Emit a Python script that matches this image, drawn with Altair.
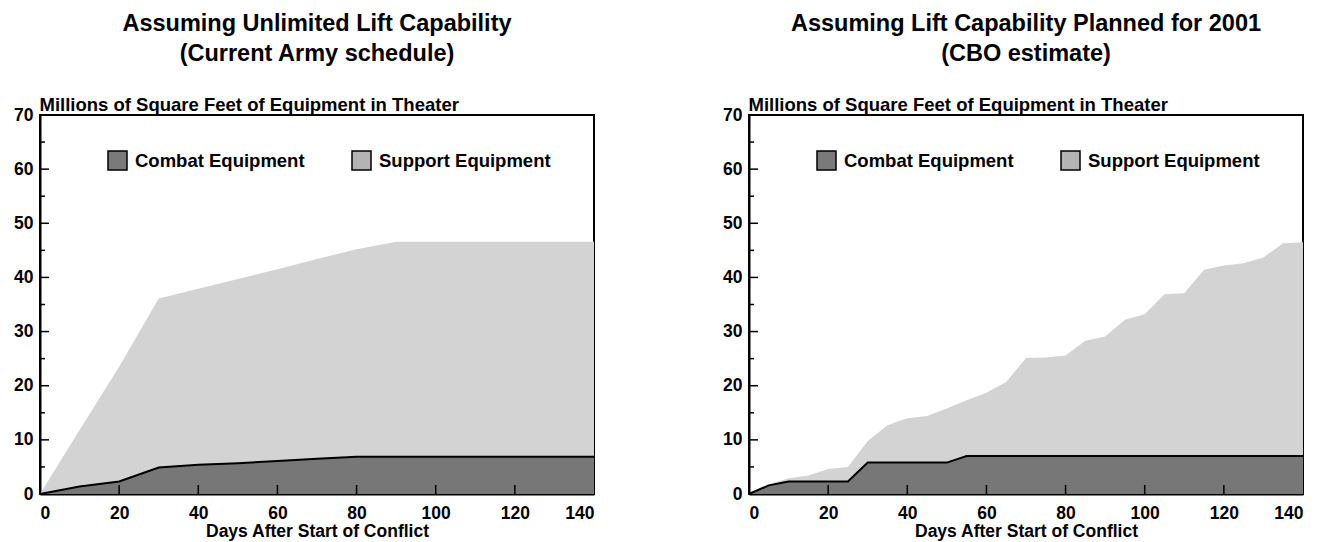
import altair as alt
import pandas as pd

# ---- data ----
days_a = [0, 10, 20, 30, 40, 50, 60, 70, 80, 90, 100, 110, 120, 130, 140]
combat_a = [0, 1.4, 2.3, 4.9, 5.4, 5.7, 6.1, 6.5, 6.9, 6.9, 6.9, 6.9, 6.9, 6.9, 6.9]
total_a = [0, 11.8, 23.5, 36.1, 37.9, 39.7, 41.5, 43.4, 45.2, 46.6, 46.6, 46.6, 46.6, 46.6, 46.6]

days_b = [0, 5, 10, 15, 20, 25, 30, 35, 40, 45, 50, 55, 60, 65, 70, 75, 80, 85, 90,
          95, 100, 105, 110, 115, 120, 125, 130, 135, 140]
combat_b = [0, 1.6, 2.3, 2.3, 2.3, 2.3, 5.8, 5.8, 5.8, 5.8, 5.8, 7.0, 7.0, 7.0, 7.0,
            7.0, 7.0, 7.0, 7.0, 7.0, 7.0, 7.0, 7.0, 7.0, 7.0, 7.0, 7.0, 7.0, 7.0]
total_b = [0, 1.8, 2.9, 3.4, 4.6, 5.0, 9.8, 12.7, 14.0, 14.4, 15.8, 17.3, 18.7, 20.7,
           25.1, 25.2, 25.6, 28.3, 29.1, 32.2, 33.2, 36.9, 37.1, 41.4, 42.2, 42.6,
           43.7, 46.3, 46.5]

title_a = ["Assuming Unlimited Lift Capability", "(Current Army schedule)"]
title_b = ["Assuming Lift Capability Planned for 2001", "(CBO estimate)"]
y_title = "Millions of Square Feet of Equipment in Theater"
x_title = "Days After Start of Conflict"
series = ["Combat Equipment", "Support Equipment"]

x_labels = [0, 20, 40, 60, 80, 100, 120, 140]
y_labels = [0, 10, 20, 30, 40, 50, 60, 70]
y_major = [10, 20, 30, 40, 50, 60]
y_minor = [5, 15, 25, 35, 45, 55, 65]
x_major = [20, 40, 60, 80, 100, 120]

W, H = 554, 379
FONT = "Liberation Sans"
COMBAT_FILL = "#777777"
SUPPORT_FILL = "#d3d3d3"

legend_scale = alt.Scale(domain=series, range=["#7a7a7a", "#b4b4b4"])
xs = alt.Scale(domain=[0, 140], nice=False, zero=False)
ys = alt.Scale(domain=[0, 70], nice=False)

x_axis = alt.Axis(values=x_labels, title=x_title, ticks=False, grid=False,
                  labelPadding=10, titlePadding=1, domainColor="black",
                  domainWidth=2)
y_axis = alt.Axis(values=y_labels, title=y_title, ticks=False, grid=False,
                  labelPadding=7, titleAngle=0, titleAlign="left",
                  titleBaseline="alphabetic", titleX=-1, titleY=-5, minExtent=31,
                  titleFontSize=18.5, domainColor="black", domainWidth=2)

legend = alt.Legend(
    title=None, orient="none", legendX=67, legendY=35, direction="horizontal",
    symbolType="square", symbolSize=361, symbolStrokeColor="black",
    symbolStrokeWidth=1.5, symbolOpacity=1, labelFontSize=18.5, labelFont=FONT,
    labelFontWeight="bold", labelColor="black", labelLimit=400, labelOffset=7,
    columnPadding=44,
)


def X(field):
    return alt.X(field, scale=xs, axis=x_axis)


def Y(field):
    return alt.Y(field, scale=ys, axis=y_axis)


def panel(days, combat, total, title):
    df = pd.DataFrame({"day": days, "combat": combat, "total": total})
    base = alt.Chart(df)
    support = base.mark_area(color=SUPPORT_FILL, opacity=1).encode(
        x=X("day:Q"), y=Y("total:Q"))
    combat_area = base.mark_area(color=COMBAT_FILL, opacity=1).encode(
        x=X("day:Q"), y=Y("combat:Q"))
    combat_line = base.mark_line(color="black", strokeWidth=2).encode(
        x=X("day:Q"), y=Y("combat:Q"))

    # zero-size rects that only carry the legend
    legend_layer = alt.Chart(pd.DataFrame({"series": series, "z": [0, 0]})).mark_rect(
        strokeWidth=0).encode(
        x=X("z:Q"), x2="z:Q", y=Y("z:Q"), y2="z:Q",
        color=alt.Color("series:N", scale=legend_scale, legend=legend),
    )

    ymaj = alt.Chart(pd.DataFrame({"t": y_major})).mark_rule(
        color="black", strokeWidth=1.5).encode(
        y=Y("t:Q"), x=alt.value(0), x2=alt.value(9))
    ymin = alt.Chart(pd.DataFrame({"t": y_minor})).mark_rule(
        color="black", strokeWidth=1.5).encode(
        y=Y("t:Q"), x=alt.value(0), x2=alt.value(5))
    xmaj = alt.Chart(pd.DataFrame({"t": x_major})).mark_rule(
        color="black", strokeWidth=1.5).encode(
        x=X("t:Q"), y=alt.value(H), y2=alt.value(H - 9))

    return alt.layer(support, combat_area, combat_line, legend_layer,
                     ymaj, ymin, xmaj).properties(
        width=W, height=H,
        title=alt.TitleParams(title, fontSize=23.5, font=FONT, fontWeight="bold",
                              color="black", lineHeight=30, anchor="middle",
                              offset=30),
    )


chart = alt.hconcat(
    panel(days_a, combat_a, total_a, title_a),
    panel(days_b, combat_b, total_b, title_b),
    spacing=118,
).resolve_scale(color="independent").resolve_legend(color="independent").properties(
    padding={"left": 0, "top": 2, "right": 5, "bottom": 0}
).configure_view(
    stroke="black", strokeWidth=2
).configure_axis(
    labelFont=FONT, labelFontSize=17.5, labelFontWeight="bold", labelColor="black",
    titleFont=FONT, titleFontSize=17.5, titleFontWeight="bold", titleColor="black",
)

chart.save("out.html", embed_options={"renderer": "svg", "actions": False})
